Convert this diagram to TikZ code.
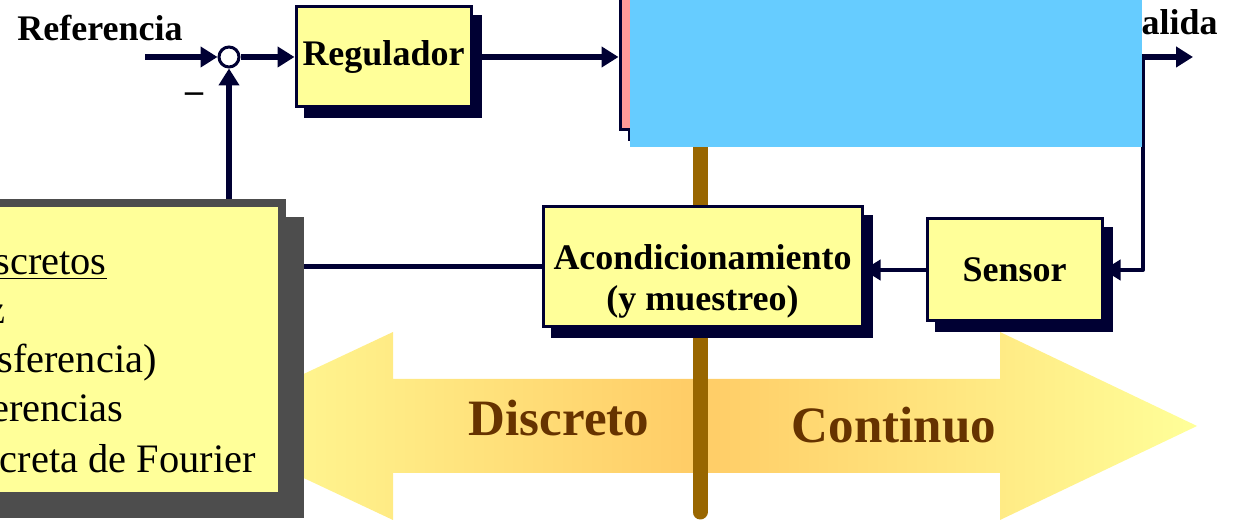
\documentclass[tikz,border=0pt]{standalone}
\usepackage{fontspec}
\setmainfont{Liberation Serif}
\usetikzlibrary{positioning, arrows.meta, shadows, backgrounds}
\definecolor{marino}{HTML}{000033}
\definecolor{crema}{HTML}{FFFF99}
\definecolor{rosa}{HTML}{FF9999}
\definecolor{celeste}{HTML}{66CCFF}
\definecolor{ocre}{HTML}{996600}
\definecolor{gris}{HTML}{4D4D4D}
\definecolor{marron}{HTML}{663300}
\definecolor{naranja}{HTML}{FFCC66}

\begin{document}
\begin{tikzpicture}[
    x=0.5pt, y=-0.5pt,
    node distance=32.5pt,
    box/.style={rectangle, draw=marino, line width=1.5pt, fill=crema, inner sep=0pt, align=center,
        font=\bfseries\fontsize{18}{20.5}\selectfont,
        drop shadow={shadow xshift=4.5pt, shadow yshift=-5pt, fill=marino, draw=marino, line width=1.5pt, opacity=1}},
    arrow/.style={-{Triangle[length=8.5pt, width=10pt]}, line width=2.75pt, draw=marino},
    wire/.style={line width=2.5pt, draw=marino},
    tagtext/.style={inner sep=0pt, font=\bfseries\fontsize{18}{20.5}\selectfont},
    frag/.style={inner sep=0pt, anchor=base east, font=\fontsize{20.2}{24}\selectfont}
]
    \useasboundingbox (0,0) rectangle (1236,522);

    \node[box, minimum width=87.5pt, minimum height=50pt] (regulador) at (383.5,57) {Regulador};
    \node[circle, draw=marino, line width=1.5pt, fill=white, minimum size=10pt, inner sep=0pt, left=27pt of regulador] (suma) {};
    \node[tagtext, anchor=base west] (referencia) at (17,41) {Referencia};
    \node[tagtext, anchor=base] (menos) at (194,103) {--};
    \coordinate (entrada) at (145,57);

    \node[box, fill=rosa, minimum width=250pt, minimum height=73pt, right=73pt of regulador] (planta) {};
    \node[tagtext, anchor=base east] (salidatxt) at (1218,35) {Salida};
    \coordinate (salida) at (1193,57);
    \coordinate (rama) at (1143,57);

    \node[box, minimum width=159.5pt, minimum height=60pt] (acond) at (702.5,267) {};
    \node[tagtext, align=center] (acondtxt) at (702.5,281) {Acondicionamiento\\(y muestreo)};
    \node[box, minimum width=87.5pt, minimum height=51pt, right=31pt of acond, yshift=-1.5pt] (sensor) {Sensor};

    \node[rectangle, draw=gris, line width=4pt, fill=crema, minimum width=191pt, minimum height=146.5pt, anchor=north east,
        drop shadow={shadow xshift=9pt, shadow yshift=-9pt, fill=gris, draw=gris, line width=4pt, opacity=1}] (sistemas) at (286,199) {};
    \foreach \txt/\xe/\yb [count=\i] in {{\underline{scretos}}/107/275, z/6/324, {sferencia)}/157/373, erencias/124/422, {creta de Fourier}/256/473}
        \node[frag] (linea\i) at (\xe,\yb) {\txt};

    \node[tagtext, font=\bfseries\fontsize{25.5}{30}\selectfont, text=marron, anchor=base] (discreto) at (559,436) {Discreto};
    \node[tagtext, font=\bfseries\fontsize{25.5}{30}\selectfont, text=marron, anchor=base] (continuo) at (894,443) {Continuo};

    \node[rectangle, fill=celeste, inner sep=0pt, outer sep=0pt, minimum width=256pt, minimum height=73.5pt, anchor=north west] (tapa) at (630,0) {};

    \begin{scope}[on background layer]
        \shade[left color=crema, right color=crema, middle color=naranja]
            (193,426) -- (393,332) -- (393,379) -- (1000,379) -- (1000,332) -- (1197,426)
            -- (1000,520) -- (1000,473) -- (393,473) -- (393,520) -- cycle;
        \draw[ocre, line width=7.5pt, line cap=round] (700,100) -- (700,512);

        \draw[arrow] (entrada) -- (suma);
        \draw[arrow] (suma) -- (regulador);
        \draw[arrow] (regulador) -- (planta);
        \draw[arrow] (planta.east) -- (salida);
        \draw[arrow, line width=2pt, line join=round] (rama) |- (sensor.east);
        \draw[arrow, line width=2pt] (sensor.west) -- (sensor.west -| acond.east);
        \draw[wire] (sistemas.east |- acond) -- (acond.west);
        \draw[arrow] (sistemas.north -| suma) -- (suma);
    \end{scope}
\end{tikzpicture}
\end{document}
